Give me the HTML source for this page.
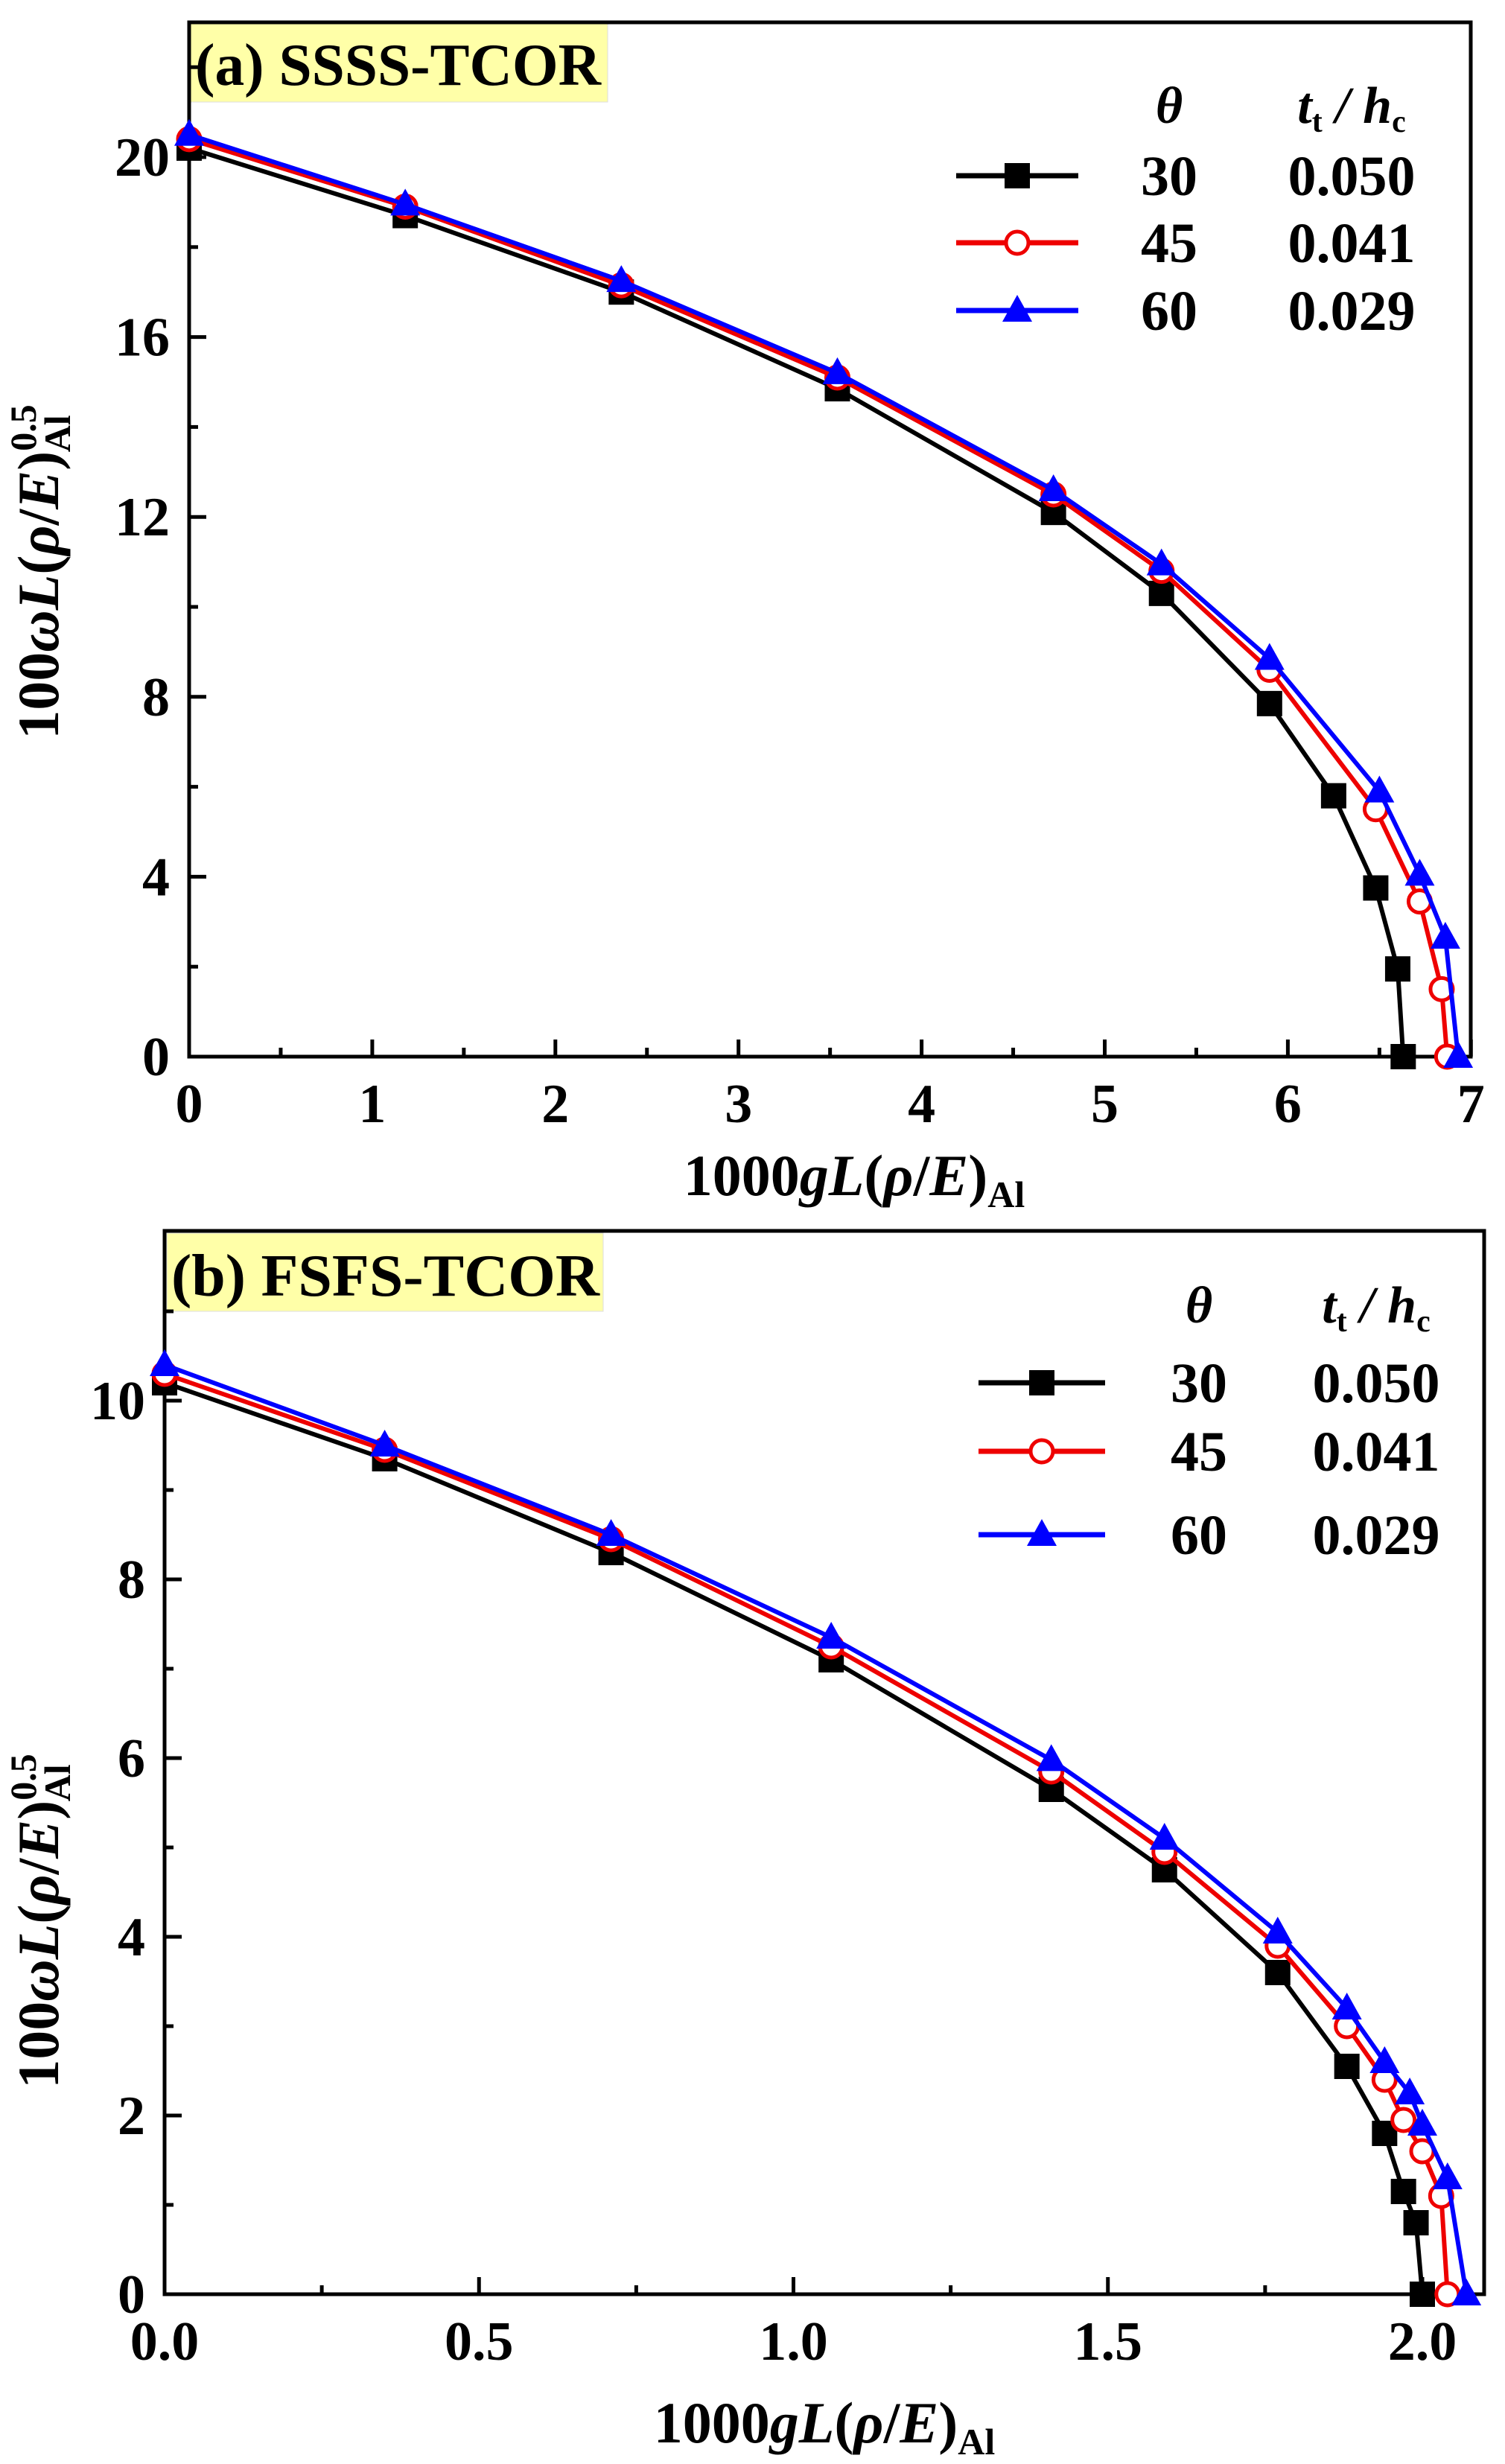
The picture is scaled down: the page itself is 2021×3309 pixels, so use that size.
<!DOCTYPE html>
<html><head><meta charset="utf-8"><style>
html,body{margin:0;padding:0;background:#fff;}
svg{display:block;font-family:"Liberation Serif",serif;font-weight:bold;}
</style></head><body>
<svg id="s" width="2021" height="3309" xmlns="http://www.w3.org/2000/svg">
<rect x="256" y="32" width="560" height="105" fill="#ffffa8" stroke="#ddd" stroke-width="1"/>
<text x="262" y="114" font-size="80" textLength="545" lengthAdjust="spacingAndGlyphs">(a) SSSS-TCOR</text>
<rect x="224" y="1656" width="586" height="105" fill="#ffffa8" stroke="#ddd" stroke-width="1"/>
<text x="230" y="1740" font-size="80" textLength="575" lengthAdjust="spacingAndGlyphs">(b) FSFS-TCOR</text>
<g id="g"></g>
</svg>
<script>
const NS="http://www.w3.org/2000/svg";const g=document.getElementById('g');
function el(t,a,txt){const e=document.createElementNS(NS,t);for(const k in a)e.setAttribute(k,a[k]);if(txt!==undefined)e.textContent=txt;g.appendChild(e);return e;}
function panel(P){
 const X=v=>P.x0+v*P.sx, Y=v=>P.y0-v*P.sy;
 for(let v=0;v<=P.xmax+1e-9;v+=P.xminor){const major=Math.abs(v/P.xmajor-Math.round(v/P.xmajor))<1e-6;
  el('line',{x1:X(v),x2:X(v),y1:P.y0,y2:P.y0-(major?23:12),stroke:'#000','stroke-width':5});
  if(major) el('text',{x:X(v),y:P.y0+88,'font-size':74,'text-anchor':'middle'},P.xfmt(v));}
 for(let v=0;v<=P.ymax+1e-9;v+=P.yminor){const major=Math.abs(v/P.ymajor-Math.round(v/P.ymajor))<1e-6;
  el('line',{x1:P.x0,x2:P.x0+(major?23:12),y1:Y(v),y2:Y(v),stroke:'#000','stroke-width':5});
  if(major) el('text',{x:P.x0-26,y:Y(v)+25,'font-size':74,'text-anchor':'end'},String(v));}
 el('rect',{x:P.x0,y:P.top,width:P.right-P.x0,height:P.y0-P.top,fill:'none',stroke:'#000','stroke-width':5});
 const cols=['#000','#e00','#00f'];
 P.data.forEach((d,i)=>{
  el('polyline',{points:d.map(p=>X(p[0])+','+Y(p[1])).join(' '),fill:'none',stroke:cols[i],'stroke-width':6,'stroke-linejoin':'round'});
  d.forEach(p=>marker(i,X(p[0]),Y(p[1])));
 });
 el('text',{x:P.lg.th,y:P.lg.hy,'font-size':70,'text-anchor':'middle','font-style':'italic'},'θ');
 const t=el('text',{x:P.lg.tx,y:P.lg.hy,'font-size':70,'text-anchor':'middle','font-style':'italic'});
 t.innerHTML='t<tspan font-size="42" font-style="normal" dy="12">t</tspan><tspan dy="-12"> / h</tspan><tspan font-size="42" font-style="normal" dy="12">c</tspan>';
 const th=['30','45','60'],tt=['0.050','0.041','0.029'];
 P.lg.rows.forEach((ry,i)=>{
  el('line',{x1:P.lg.l1,x2:P.lg.l2,y1:ry,y2:ry,stroke:cols[i],'stroke-width':7});
  marker(i,(P.lg.l1+P.lg.l2)/2,ry);
  el('text',{x:P.lg.th,y:ry+26,'font-size':76,'text-anchor':'middle'},th[i]);
  el('text',{x:P.lg.tx,y:ry+26,'font-size':76,'text-anchor':'middle'},tt[i]);
 });
 const xl=el('text',{x:P.xl[0],y:P.xl[1],'font-size':78,'text-anchor':'middle'});
 xl.innerHTML='1000<tspan font-style="italic">gL</tspan>(<tspan font-style="italic">ρ</tspan>/<tspan font-style="italic">E</tspan>)<tspan font-size="50" dy="16">Al</tspan>';
 const yl=el('text',{x:0,y:0,'font-size':78,'text-anchor':'middle',transform:`translate(${P.yl[0]},${P.yl[1]}) rotate(-90)`});
 yl.innerHTML='100<tspan font-style="italic">ωL</tspan>(<tspan font-style="italic">ρ</tspan>/<tspan font-style="italic">E</tspan>)<tspan font-size="50" dy="-30">0.5</tspan><tspan font-size="50" dx="-64" dy="46">Al</tspan>';
}
function marker(i,x,y){
 if(i==0) el('rect',{x:x-17,y:y-17,width:34,height:34,fill:'#000'});
 else if(i==1) el('circle',{cx:x,cy:y,r:15,fill:'#fff',stroke:'#e00','stroke-width':5});
 else el('polygon',{points:`${x},${y-21} ${x-20},${y+15} ${x+20},${y+15}`,fill:'#00f'});
}
panel({x0:254,y0:1419,sx:245.9,sy:60.4,top:30,right:1975,xmax:7,xminor:0.5,xmajor:1,ymax:23,yminor:2,ymajor:4,
 xfmt:v=>String(Math.round(v)),
 data:[
 [[0,20.2],[1.18,18.7],[2.36,17.0],[3.54,14.85],[4.72,12.1],[5.31,10.3],[5.9,7.85],[6.25,5.8],[6.48,3.75],[6.6,1.95],[6.63,0]],
 [[0,20.4],[1.18,18.9],[2.36,17.15],[3.54,15.1],[4.72,12.5],[5.31,10.8],[5.9,8.6],[6.48,5.5],[6.72,3.45],[6.84,1.5],[6.87,0]],
 [[0,20.5],[1.18,18.95],[2.36,17.25],[3.54,15.2],[4.72,12.6],[5.31,10.95],[5.9,8.85],[6.5,5.9],[6.72,4.05],[6.86,2.65],[6.93,0]]],
 lg:{th:1570,tx:1815,hy:165,rows:[236,326,417],l1:1284,l2:1448},
 xl:[1147,1605],yl:[78,768]});
panel({x0:221,y0:3081,sx:844.5,sy:120,top:1653,right:1993,xmax:2.1,xminor:0.25,xmajor:0.5,ymax:11.9,yminor:1,ymajor:2,
 xfmt:v=>v.toFixed(1),
 data:[
 [[0,10.2],[0.35,9.35],[0.71,8.3],[1.06,7.1],[1.41,5.65],[1.59,4.75],[1.77,3.6],[1.88,2.55],[1.94,1.8],[1.97,1.15],[1.99,0.8],[2.0,0]],
 [[0,10.3],[0.35,9.45],[0.71,8.45],[1.06,7.25],[1.41,5.85],[1.59,4.95],[1.77,3.9],[1.88,3.0],[1.94,2.4],[1.97,1.95],[2.0,1.6],[2.03,1.1],[2.04,0]],
 [[0,10.4],[0.35,9.5],[0.71,8.5],[1.06,7.35],[1.41,5.98],[1.59,5.1],[1.77,4.05],[1.88,3.2],[1.94,2.6],[1.98,2.25],[2.0,1.9],[2.04,1.3],[2.07,0]]],
 lg:{th:1610,tx:1848,hy:1776,rows:[1857,1949,2061],l1:1314,l2:1484},
 xl:[1107,3280],yl:[78,2580]});
</script>
</body></html>
